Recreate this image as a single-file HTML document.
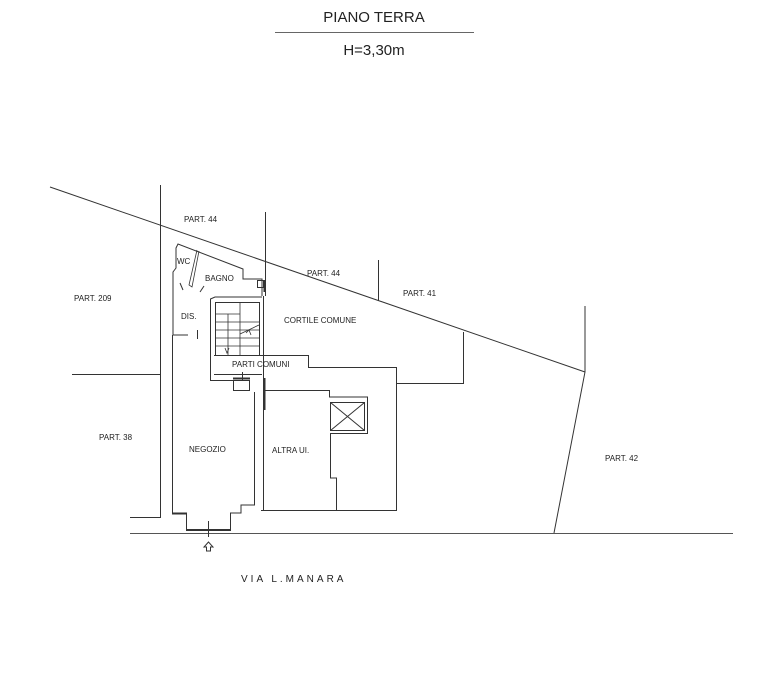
<!DOCTYPE html>
<html><head><meta charset="utf-8"><style>
html,body{margin:0;padding:0;background:#fff;}
svg{display:block;}
text{font-family:"Liberation Sans",sans-serif;fill:#222;}
.s{font-size:8px;}
</style></head><body>
<svg width="776" height="673" viewBox="0 0 776 673" xmlns="http://www.w3.org/2000/svg">
<g stroke="#333" stroke-width="1" fill="none">
<!-- title -->
<line x1="275" y1="32.5" x2="474" y2="32.5" stroke="#666"/>
<!-- property lines -->
<line x1="50" y1="187" x2="585" y2="372"/>
<polyline points="585,306 585,372 554,533"/>
<line x1="130" y1="533.5" x2="733" y2="533.5" stroke="#555"/>
<polyline points="160.5,185 160.5,517.5 130,517.5"/>
<line x1="72" y1="374.5" x2="160" y2="374.5"/>
<line x1="265.5" y1="212" x2="265.5" y2="296"/>
<line x1="378.5" y1="260" x2="378.5" y2="301"/>
<!-- cortile / parti comuni -->
<polyline points="463.5,332 463.5,383.5 396.5,383.5"/>
<polyline points="214,355.5 308.5,355.5 308.5,367.5 396.5,367.5 396.5,510.5 261,510.5"/>
<polyline points="214,374.5 262,374.5"/>
<!-- altra ui inner -->
<polyline points="263.5,390.5 329.5,390.5 329.5,397 367.5,397 367.5,433.5 330.5,433.5 330.5,478 336.5,478 336.5,510"/>
<rect x="330.5" y="402.5" width="34" height="28"/>
<line x1="330.5" y1="402.5" x2="364.5" y2="430.5"/>
<line x1="364.5" y1="402.5" x2="330.5" y2="430.5"/>
<!-- walls -->
<line x1="263.5" y1="296" x2="263.5" y2="510"/>
<line x1="264.5" y1="378" x2="264.5" y2="410" stroke-width="2"/>
<line x1="264.5" y1="280" x2="264.5" y2="292" stroke-width="2"/>
<polyline points="254.5,392 254.5,505 241,505 241,513 230.5,513 230.5,531"/>
<polyline points="172.5,335 172.5,513 186.5,513 186.5,531"/>
<line x1="186" y1="530" x2="230" y2="530" stroke-width="2"/>
<line x1="208.5" y1="521" x2="208.5" y2="537"/>
<line x1="172" y1="513.5" x2="186" y2="513.5" stroke-width="2"/>
<!-- stair block -->
<polyline points="233,380.5 210.5,380.5 210.5,299 215,297 262,297"/>
<rect x="215.5" y="302.5" width="44" height="53"/>
<g stroke-width="0.8">
<line x1="215" y1="314" x2="240" y2="314"/><line x1="215" y1="322" x2="259" y2="322"/>
<line x1="215" y1="330" x2="259" y2="330"/><line x1="215" y1="338" x2="259" y2="338"/>
<line x1="215" y1="346" x2="259" y2="346"/>
<line x1="228" y1="314" x2="228" y2="355"/><line x1="240" y1="302" x2="240" y2="355"/>
<line x1="240" y1="334" x2="259" y2="325"/>
<polyline points="225,348 227,353 229,348"/>
<polyline points="246,333 249,330 251,335"/>
</g>
<rect x="233.5" y="380.5" width="16" height="10"/>
<line x1="233" y1="378.5" x2="250" y2="378.5" stroke-width="2"/>
<line x1="242.5" y1="372" x2="242.5" y2="380"/>
<!-- bath / wc -->
<polyline points="262,296 262,279 243,279 243,269 178,244 176,248 176,268 173,272 173,335 188,335"/>
<line x1="197.5" y1="330" x2="197.5" y2="339"/>
<polyline points="197,250 189,285 192,287 199,251" stroke-width="0.8"/>
<line x1="180" y1="283" x2="183" y2="290"/>
<line x1="204" y1="286" x2="200" y2="292"/>
<rect x="257.5" y="280.5" width="6" height="7"/>
<!-- entry arrow -->
<polygon points="208.5,542 204,547 206.5,547 206.5,551 210.5,551 210.5,547 213,547"/>
</g>
<text x="374" y="22" font-size="15" text-anchor="middle">PIANO TERRA</text>
<text x="374" y="55" font-size="15" text-anchor="middle">H=3,30m</text>
<text class="s" x="184" y="222">PART. 44</text>
<text class="s" x="307" y="276">PART. 44</text>
<text class="s" x="403" y="296">PART. 41</text>
<text class="s" x="74" y="301">PART. 209</text>
<text class="s" x="284" y="323">CORTILE COMUNE</text>
<text class="s" x="99" y="440">PART. 38</text>
<text class="s" x="605" y="461">PART. 42</text>
<text class="s" x="177" y="264">WC</text>
<text class="s" x="205" y="281">BAGNO</text>
<text class="s" x="181" y="319">DIS.</text>
<text class="s" x="232" y="367">PARTI COMUNI</text>
<text class="s" x="189" y="452">NEGOZIO</text>
<text class="s" x="272" y="453">ALTRA UI.</text>
<text x="241" y="582" font-size="10" letter-spacing="3">VIA L.MANARA</text>
</svg>
</body></html>
